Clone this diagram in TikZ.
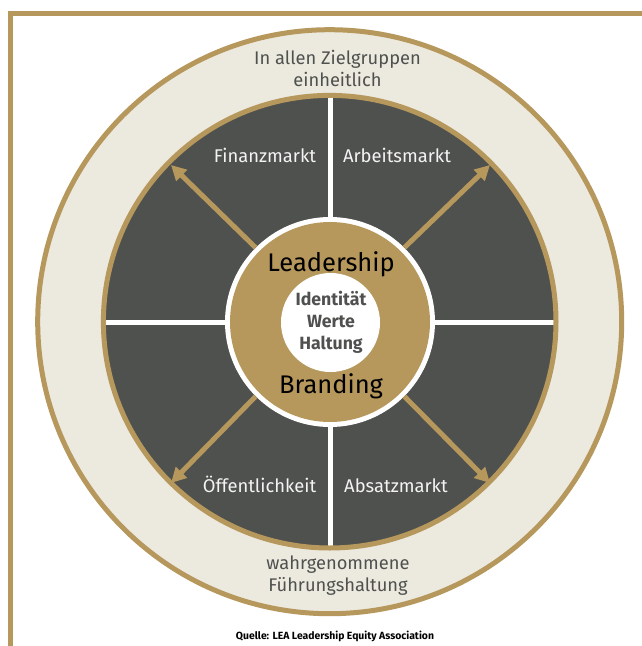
\documentclass[tikz,border=0pt]{standalone}
\usepackage{fontspec}
\setmainfont{Fira Sans}
\usetikzlibrary{arrows.meta}
\definecolor{tan}{HTML}{B6975C}
\definecolor{cream}{HTML}{ECE9DF}
\definecolor{slate}{HTML}{4F514E}
\tikzset{
  ringc/.style={circle,draw=tan,line width=5pt,minimum size=#1,inner sep=0pt},
  divider/.style={draw=white,line width=5pt},
  spoke/.style={draw=tan,line width=5pt,-{Triangle[length=15pt,width=15pt]}},
  market/.style={text=white!93!slate,font=\fontsize{18.4}{20}\selectfont,inner sep=0pt,anchor=base},
  outertext/.style={text=slate,font=\fontsize{18.3}{22}\selectfont,align=center,inner sep=0pt},
  hubtext/.style={text=black,font=\fontsize{25.5}{28}\selectfont,inner sep=0pt},
  coretext/.style={text=slate,font=\fontsize{17.7}{22}\selectfont\bfseries,align=center,inner sep=0pt}
}
\begin{document}
\begin{tikzpicture}[x=1pt,y=-1pt]
\useasboundingbox (0,0) rectangle (642,646);
\draw[tan,line width=5pt] (10.5,646) -- (10.5,13.5) -- (642,13.5);
\node[ringc=584pt,fill=cream] (outer) at (329.7,321.7) {};
\node[circle,fill=slate,minimum size=452.6pt,inner sep=0pt] (disc) at (329.7,321.7) {};
\coordinate (top) at (330.8,96);
\coordinate (bottom) at (330.8,547);
\coordinate (left) at (104,322.8);
\coordinate (right) at (555,322.8);
\draw[divider] (left) -- (right);
\draw[divider] (top) -- (bottom);
\node[ringc=452.6pt] (inner) at (329.7,321.7) {};
\node[circle,fill=white,minimum size=210pt,inner sep=0pt] (halo) at (330,322) {};
\node[circle,fill=tan,minimum size=200pt,inner sep=0pt] (hub) at (330,322) {};
\node[circle,fill=white,minimum size=99pt,inner sep=0pt] (core) at (330.5,322.5) {};
\coordinate (nw) at (171,165);
\coordinate (ne) at (490,165);
\coordinate (sw) at (171,483);
\coordinate (se) at (490,483);
\draw[spoke] (halo.135) -- (nw);
\draw[spoke] (halo.45) -- (ne);
\draw[spoke] (halo.225) -- (sw);
\draw[spoke] (halo.315) -- (se);
\node[outertext] (t1) at (337.5,68) {In allen Zielgruppen\\einheitlich};
\node[outertext] (t2) at (338,576) {wahrgenommene\\Führungshaltung};
\node[market] (m1) at (265,162) {Finanzmarkt};
\node[market] (m2) at (397,162) {Arbeitsmarkt};
\node[market] (m3) at (259.5,492) {Öffentlichkeit};
\node[market] (m4) at (396,492) {Absatzmarkt};
\node[hubtext] (h1) at (331,264) {Leadership};
\node[hubtext] (h2) at (331,386) {Branding};
\node[coretext] (c) at (331,322) {Identität\\Werte\\Haltung};
\node[font=\fontsize{10.4}{11}\selectfont\bfseries,text=black,inner sep=0pt] (q) at (335,636) {Quelle: LEA Leadership Equity Association};
\end{tikzpicture}
\end{document}
